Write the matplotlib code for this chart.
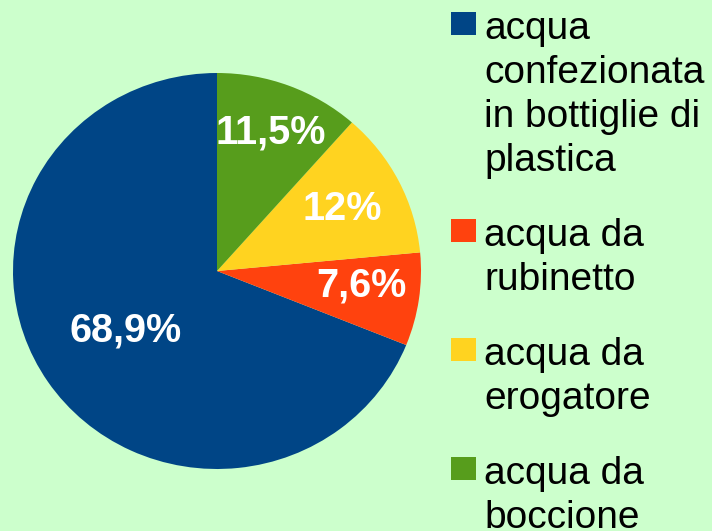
import numpy as np
import matplotlib
matplotlib.use("Agg")
import matplotlib.pyplot as plt
from matplotlib.patches import Rectangle

# Data
categories = [
    "acqua\nconfezionata\nin bottiglie di\nplastica",
    "acqua da\nrubinetto",
    "acqua da\nerogatore",
    "acqua da\nboccione",
]
shares = [68.9, 7.6, 12.0, 11.5]
share_labels = ["68,9%", "7,6%", "12%", "11,5%"]
colors = ["#004586", "#ff420e", "#ffd320", "#579d1c"]

BG = "#ccffcc"
W, H = 712, 531
plt.rcParams["font.family"] = ["Liberation Sans", "DejaVu Sans"]

fig = plt.figure(figsize=(W / 100, H / 100), dpi=100, facecolor=BG)

# Pie area (pixels): x 13..421, y 73..469 from top
left, right, top, bottom = 13, 421, 73, 469
ax = fig.add_axes([left / W, 1 - bottom / H, (right - left) / W, (bottom - top) / H])
ax.set_facecolor(BG)
wedges, _ = ax.pie(shares, colors=colors, startangle=90, counterclock=True,
                   radius=1.0, wedgeprops=dict(linewidth=0))
ax.set_aspect("auto")
ax.set_xlim(-1, 1)
ax.set_ylim(-1, 1)
ax.axis("off")

# Percentage labels placed along each wedge's bisector
label_radius = [0.54, 0.71, 0.69, 0.75]
label_turn = [0, 2.5, 0, 0]
for w, txt, r, dt in zip(wedges, share_labels, label_radius, label_turn):
    mid = np.deg2rad((w.theta1 + w.theta2) / 2 + dt)
    ax.text(r * np.cos(mid), r * np.sin(mid), txt, ha="center", va="center",
            color="white", fontsize=28.5, fontweight="bold")

# Legend drawn on the figure in pixel units
def px(x, y):
    return x / W, 1 - y / H

line_step = 44
entry_gap = 31
baseline = 39
for label, col in zip(categories, colors):
    lines = label.split("\n")
    sq_top = baseline - 27
    x0, y0 = px(451, sq_top + 23)
    fig.patches.append(Rectangle((x0, y0), 25 / W, 23 / H, transform=fig.transFigure,
                                 facecolor=col, edgecolor="none"))
    for i, ln in enumerate(lines):
        tx, ty = px(484, baseline + i * line_step)
        fig.text(tx, ty, ln, ha="left", va="baseline", fontsize=28, color="black")
    baseline += len(lines) * line_step + entry_gap

fig.savefig("out.png", dpi=100, facecolor=BG)
